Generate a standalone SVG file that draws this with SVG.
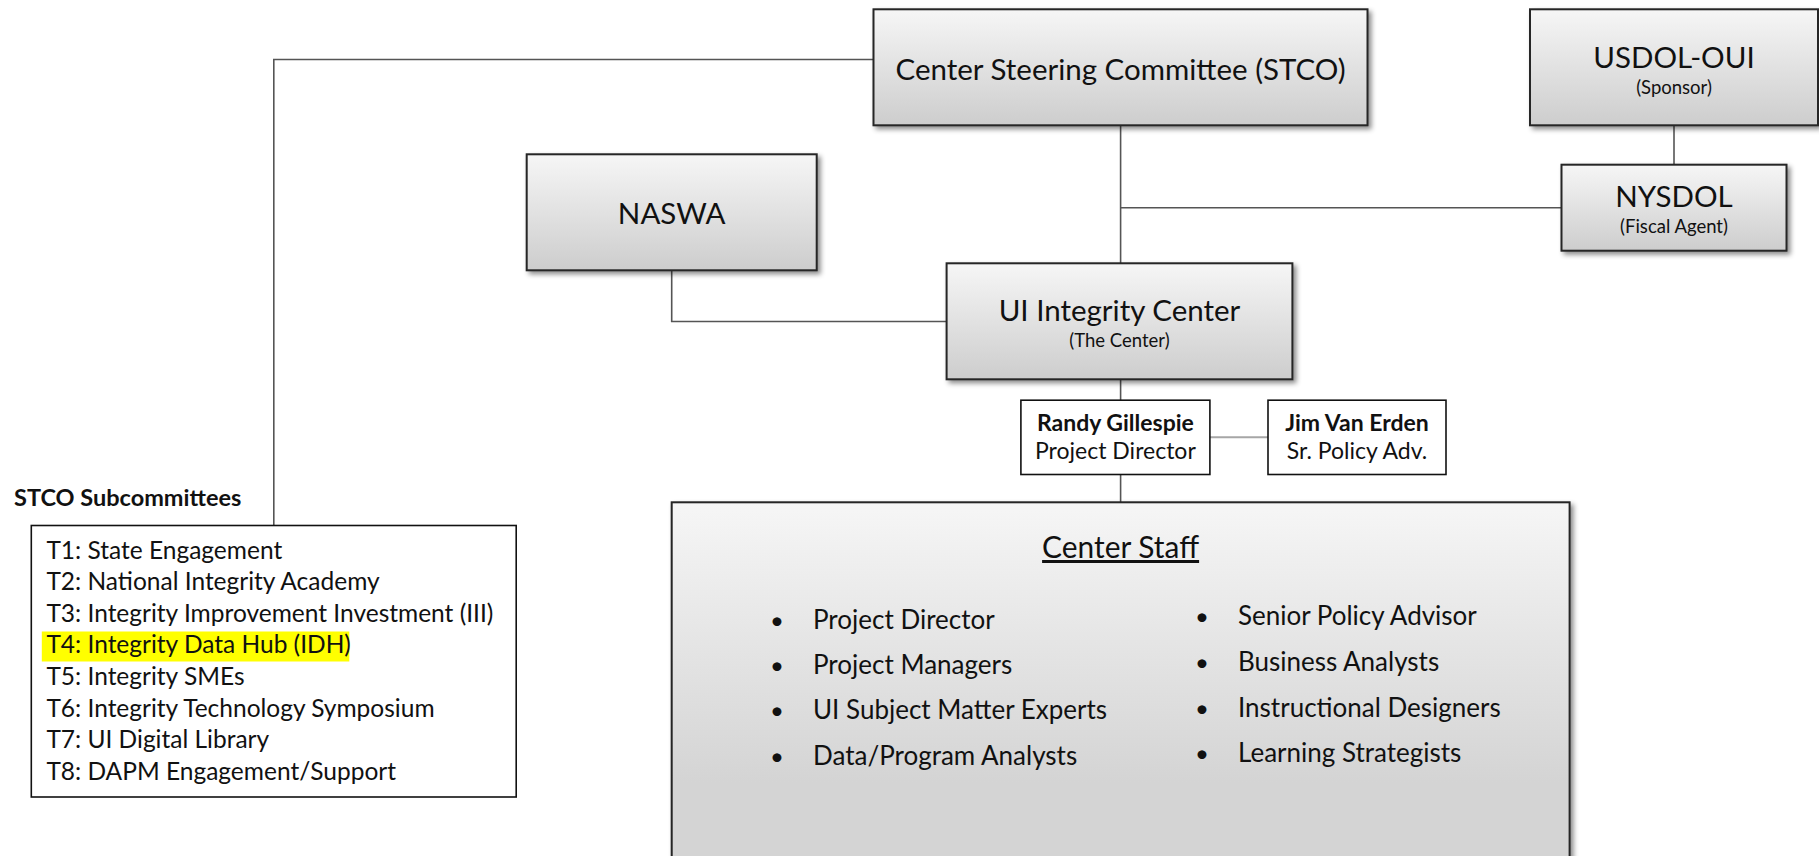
<svg xmlns="http://www.w3.org/2000/svg" width="1819" height="856" viewBox="0 0 1819 856">
<style>
.box{fill:url(#g);stroke:#262626;stroke-width:2;filter:url(#sh)}
.wbox{fill:#fff;stroke:#111;stroke-width:1.6}
.t{font-family:Lato,"Liberation Sans",sans-serif;fill:#111;text-anchor:middle}
.big{font-size:29.5px}
.sm{font-size:18.5px}
.mid{font-size:23px}
.b{font-weight:bold}
.l{font-family:Lato,"Liberation Sans",sans-serif;fill:#111;font-size:24.5px}
.s{font-family:Lato,"Liberation Sans",sans-serif;fill:#111;font-size:26px}
.bu{font-family:Lato,"Liberation Sans",sans-serif;fill:#111;font-size:24px;text-anchor:middle}
.c{fill:none;stroke:#555;stroke-width:1.6}
</style>
<defs>
<linearGradient id="g" x1="0" y1="0" x2="0" y2="1">
<stop offset="0" stop-color="#f6f6f6"/>
<stop offset="1" stop-color="#cdcdcd"/>
</linearGradient>
<linearGradient id="g2" x1="0" y1="0" x2="0" y2="1">
<stop offset="0" stop-color="#f6f6f6"/>
<stop offset="0.7" stop-color="#d4d4d4"/>
<stop offset="1" stop-color="#d4d4d4"/>
</linearGradient>
<filter id="sh" x="-10%" y="-10%" width="125%" height="130%">
<feDropShadow dx="3" dy="3" stdDeviation="2.5" flood-color="#000" flood-opacity="0.45"/>
</filter>
</defs>
<g id="connectors">
<path class="c" d="M873.5 59.5 H273.8 V525.5"/>
<path class="c" d="M1120.6 125.3 V263.3"/>
<path class="c" d="M1120.6 207.8 H1561.5"/>
<path class="c" d="M1674 125.3 V164.7"/>
<path class="c" d="M671.7 270.3 V321.5 H946.6"/>
<path class="c" d="M1120.6 379.3 V400.2"/>
<path class="c" d="M1120.6 474.5 V502.3"/>
<path class="c" d="M1210 437.3 H1268" style="stroke:#a6a6a6;stroke-width:2"/>
</g>
<g id="stco">
<rect class="box" x="873.5" y="9.3" width="494" height="116"/>
<text class="t big" x="1120.6" y="80">Center Steering Committee (STCO)</text>
</g>
<g id="usdol">
<rect class="box" x="1530" y="9.3" width="288" height="116"/>
<text class="t big" x="1674" y="68">USDOL-OUI</text>
<text class="t sm" x="1674" y="94">(Sponsor)</text>
</g>
<g id="nysdol">
<rect class="box" x="1561.5" y="164.7" width="225" height="86"/>
<text class="t big" x="1674" y="207">NYSDOL</text>
<text class="t sm" x="1674" y="233">(Fiscal Agent)</text>
</g>
<g id="naswa">
<rect class="box" x="526.7" y="154.3" width="290" height="116"/>
<text class="t big" x="671.7" y="224">NASWA</text>
</g>
<g id="center">
<rect class="box" x="946.6" y="263.3" width="345.8" height="116"/>
<text class="t big" x="1119.5" y="321">UI Integrity Center</text>
<text class="t sm" x="1119.5" y="347">(The Center)</text>
</g>
<g id="randy">
<rect class="wbox" x="1020.9" y="400.2" width="189" height="74.3"/>
<text class="t mid b" x="1115.4" y="431">Randy Gillespie</text>
<text class="t mid" x="1115.4" y="459">Project Director</text>
</g>
<g id="jim">
<rect class="wbox" x="1268" y="400.2" width="178" height="74.3"/>
<text class="t mid b" x="1357" y="431">Jim Van Erden</text>
<text class="t mid" x="1357" y="459">Sr. Policy Adv.</text>
</g>
<g id="subcommittees">
<text class="l b" x="14" y="506" style="font-size:23.5px">STCO Subcommittees</text>
<rect class="wbox" x="31.3" y="525.5" width="484.9" height="271.5"/>
<rect x="41.8" y="631.5" width="307.5" height="30" fill="#ffff00"/>
<text class="l" x="46.4" y="558.5">T1: State Engagement</text>
<text class="l" x="46.4" y="590.1">T2: National Integrity Academy</text>
<text class="l" x="46.4" y="621.7">T3: Integrity Improvement Investment (III)</text>
<text class="l" x="46.4" y="653.3">T4: Integrity Data Hub (IDH)</text>
<text class="l" x="46.4" y="684.9">T5: Integrity SMEs</text>
<text class="l" x="46.4" y="716.5">T6: Integrity Technology Symposium</text>
<text class="l" x="46.4" y="748.1">T7: UI Digital Library</text>
<text class="l" x="46.4" y="779.7">T8: DAPM Engagement/Support</text>
</g>
<g id="staff">
<rect x="671.7" y="502.3" width="897.9" height="400" fill="url(#g2)" stroke="#262626" stroke-width="2" filter="url(#sh)"/>
<text class="s" x="1120.6" y="558" text-anchor="middle" text-decoration="underline" textLength="157" lengthAdjust="spacingAndGlyphs" style="font-size:30px">Center Staff</text>
<text class="bu" x="777" y="629">•</text>
<text class="bu" x="777" y="674">•</text>
<text class="bu" x="777" y="719">•</text>
<text class="bu" x="777" y="765">•</text>
<text class="s" x="813" y="629">Project Director</text>
<text class="s" x="813" y="674">Project Managers</text>
<text class="s" x="813" y="719">UI Subject Matter Experts</text>
<text class="s" x="813" y="765">Data/Program Analysts</text>
<text class="bu" x="1202" y="625">•</text>
<text class="bu" x="1202" y="671">•</text>
<text class="bu" x="1202" y="717">•</text>
<text class="bu" x="1202" y="762">•</text>
<text class="s" x="1238" y="625">Senior Policy Advisor</text>
<text class="s" x="1238" y="671">Business Analysts</text>
<text class="s" x="1238" y="717">Instructional Designers</text>
<text class="s" x="1238" y="762">Learning Strategists</text>
</g>
</svg>
